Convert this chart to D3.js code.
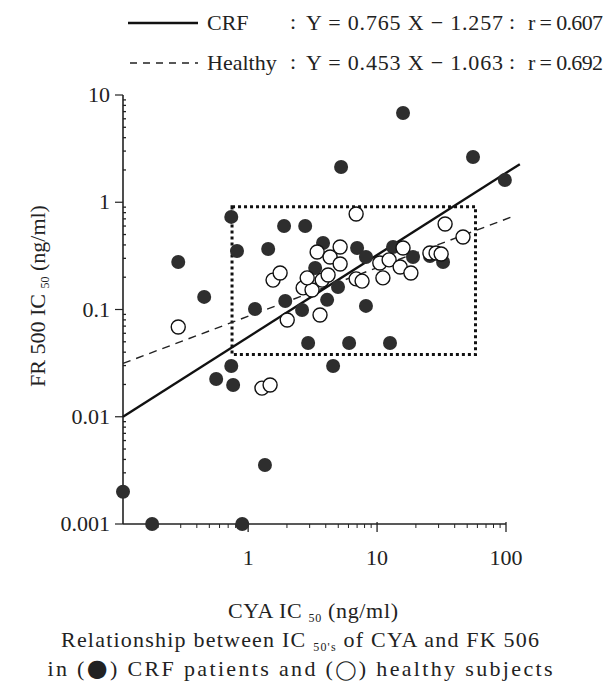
<!DOCTYPE html>
<html>
<head>
<meta charset="utf-8">
<script src="https://cdn.jsdelivr.net/npm/d3@7"></script>
<style>
  body { margin: 0; background: #fff; }
  text { font-family: "Liberation Serif", "DejaVu Serif", serif; fill: #222; }
</style>
</head>
<body>
<div id="figure"></div>
<script>
// CRF patients (filled dots): CYA IC50 vs FR500 IC50, ng/ml
var crfX = [0.107, 0.18, 0.90, 15.9, 55.5, 98, 5.26, 0.74, 1.90, 2.77, 0.287, 0.82, 1.43, 0.456,
  1.13, 1.94, 2.62, 2.92, 4.56, 0.74, 0.565, 0.765, 1.35, 6.07, 12.6, 8.2, 3.81, 3.31, 4.10,
  4.98, 7.0, 8.2, 13.3, 19.0, 25.7, 32.5];
var crfY = [0.002, 0.001, 0.001, 6.8, 2.64, 1.61, 2.13, 0.73, 0.60, 0.60, 0.277, 0.351, 0.366, 0.131,
  0.101, 0.120, 0.099, 0.0487, 0.0297, 0.0297, 0.0225, 0.0198, 0.00355, 0.0487, 0.0487, 0.108, 0.417, 0.244, 0.123,
  0.162, 0.374, 0.309, 0.383, 0.309, 0.315, 0.277];

// healthy subjects (open dots)
var healthyX = [0.287, 1.28, 1.48, 1.56, 1.77, 2.01, 2.67, 3.13, 2.87, 3.43, 4.32, 5.17, 5.17, 3.75,
  4.17, 3.61, 6.88, 6.88, 7.65, 10.5, 12.4, 15.9, 15.1, 11.1, 18.3, 25.7, 28.7, 31.4, 33.7, 46.4];
var healthyY = [0.0687, 0.0185, 0.0198, 0.188, 0.219, 0.0798, 0.159, 0.152, 0.197, 0.344, 0.309, 0.383, 0.266, 0.188,
  0.210, 0.0889, 0.777, 0.193, 0.184, 0.271, 0.290, 0.374, 0.249, 0.197, 0.219, 0.336, 0.336, 0.329, 0.627, 0.474];

// regression lines log10(Y) = a*log10(X) + b
var fitNames = ["CRF", "Healthy"];
var fitSlope = [0.765, 0.453];
var fitIntercept = [-1.257, -1.063];
var fitR = ["0.607", "0.692"];
var fitEndX = [128, 118];

// dotted reference box
var boxX = [0.75, 58];
var boxY = [0.038, 0.91];

var xMajor = [1, 10, 100];
var yMajor = [0.001, 0.01, 0.1, 1, 10];
var yLabels = ["0.001", "0.01", "0.1", "1", "10"];

var w = 610, h = 684;
var xMin = 0.107;
var fs = 22;

var svg = d3.select("#figure").append("svg").attr("width", w).attr("height", h);

var x = d3.scaleLog().domain([xMin, 100]).range([123, 506]);
var y = d3.scaleLog().domain([0.001, 10]).range([524, 95]);

// minor tick values
var xMinor = [], yMinor = [];
[0.1, 1, 10].forEach(function(d) {
  for (var k = 2; k <= 9; k++) { if (d * k > xMin) xMinor.push(d * k); }
});
[0.001, 0.01, 0.1, 1].forEach(function(d) {
  for (var k = 2; k <= 9; k++) yMinor.push(d * k);
});

var axisG = svg.append("g").attr("stroke", "#222").attr("fill", "none");

// axis lines
axisG.append("line").attr("x1", x(xMin)).attr("x2", x(100)).attr("y1", y(0.001)).attr("y2", y(0.001)).attr("stroke-width", 1.6);
axisG.append("line").attr("x1", x(xMin)).attr("x2", x(xMin)).attr("y1", y(10)).attr("y2", y(0.001)).attr("stroke-width", 1.6);

// x ticks (downward)
axisG.selectAll("line.xmin").data(xMinor).enter().append("line")
  .attr("x1", function(d) { return x(d); }).attr("x2", function(d) { return x(d); })
  .attr("y1", y(0.001)).attr("y2", y(0.001) + 4).attr("stroke-width", 1);
axisG.selectAll("line.xmaj").data(xMajor).enter().append("line")
  .attr("x1", function(d) { return x(d); }).attr("x2", function(d) { return x(d); })
  .attr("y1", y(0.001) - 2).attr("y2", y(0.001) + 8).attr("stroke-width", 1.3);

// y ticks: major outside, minor inside
axisG.selectAll("line.ymaj").data(yMajor).enter().append("line")
  .attr("x1", x(xMin) - 8).attr("x2", x(xMin))
  .attr("y1", function(d) { return y(d); }).attr("y2", function(d) { return y(d); })
  .attr("stroke-width", 1.2);
axisG.selectAll("line.ymin").data(yMinor).enter().append("line")
  .attr("x1", x(xMin)).attr("x2", x(xMin) + 3)
  .attr("y1", function(d) { return y(d); }).attr("y2", function(d) { return y(d); })
  .attr("stroke-width", 1.3);

svg.selectAll("text.ylab").data(yMajor).enter().append("text")
  .attr("x", 110).attr("y", function(d) { return y(d) + 7; })
  .attr("text-anchor", "end").attr("font-size", fs)
  .text(function(d, i) { return yLabels[i]; });

svg.selectAll("text.xlab").data(xMajor).enter().append("text")
  .attr("x", function(d) { return x(d); }).attr("y", 565)
  .attr("text-anchor", "middle").attr("font-size", fs)
  .text(function(d) { return d; });

// dotted box
svg.append("rect")
  .attr("x", x(boxX[0])).attr("y", y(boxY[1]))
  .attr("width", x(boxX[1]) - x(boxX[0])).attr("height", y(boxY[0]) - y(boxY[1]))
  .attr("fill", "none").attr("stroke", "#111").attr("stroke-width", 3)
  .attr("stroke-dasharray", "3,3");

// regression lines
function fitLine(i) {
  return [xMin, fitEndX[i]].map(function(v) {
    return [x(v), y(Math.pow(10, fitSlope[i] * Math.log10(v) + fitIntercept[i]))];
  });
}
svg.append("path").attr("d", d3.line()(fitLine(1)))
  .attr("stroke", "#222").attr("stroke-width", 1.4).attr("fill", "none")
  .attr("stroke-dasharray", "8,6");
svg.append("path").attr("d", d3.line()(fitLine(0)))
  .attr("stroke", "#111").attr("stroke-width", 2.4).attr("fill", "none");

// dots
var dotR = 7;
svg.selectAll("circle.crf").data(crfX).enter().append("circle")
  .attr("cx", function(d) { return x(d); })
  .attr("cy", function(d, i) { return y(crfY[i]); })
  .attr("r", dotR).attr("fill", "#2e2e2e");
svg.selectAll("circle.healthy").data(healthyX).enter().append("circle")
  .attr("cx", function(d) { return x(d); })
  .attr("cy", function(d, i) { return y(healthyY[i]); })
  .attr("r", dotR).attr("fill", "#fff").attr("stroke", "#111").attr("stroke-width", 1.4);

// legend
var legY = [30, 70];
svg.append("line").attr("x1", 128).attr("x2", 198).attr("y1", 23).attr("y2", 23)
  .attr("stroke", "#111").attr("stroke-width", 2.4);
svg.append("line").attr("x1", 130).attr("x2", 198).attr("y1", 63).attr("y2", 63)
  .attr("stroke", "#222").attr("stroke-width", 1.3).attr("stroke-dasharray", "7,6");
fitNames.forEach(function(n, i) {
  var g = svg.append("g").attr("font-size", fs);
  g.append("text").attr("x", 207).attr("y", legY[i]).text(n);
  g.append("text").attr("x", 290).attr("y", legY[i] - 1).text(":");
  g.append("text").attr("x", 306).attr("y", legY[i])
    .attr("textLength", 197).attr("lengthAdjust", "spacing")
    .text("Y = " + fitSlope[i].toFixed(3) + " X \u2212 " + Math.abs(fitIntercept[i]).toFixed(3));
  g.append("text").attr("x", 509).attr("y", legY[i] - 1).text(":");
  g.append("text").attr("x", 528).attr("y", legY[i])
    .attr("textLength", 75).attr("lengthAdjust", "spacing")
    .text("r = " + fitR[i]);
});

// y axis title
var yt = svg.append("text").attr("transform", "translate(45,296) rotate(-90)")
  .attr("text-anchor", "middle").attr("font-size", fs);
yt.append("tspan").text("FR 500 IC ");
yt.append("tspan").attr("font-size", 12).attr("dy", 4).text("50");
yt.append("tspan").attr("dy", -4).text(" (ng/ml)");

// x axis title
var xt = svg.append("text").attr("x", 313).attr("y", 618)
  .attr("text-anchor", "middle").attr("font-size", fs)
  .attr("textLength", 170).attr("lengthAdjust", "spacing");
xt.append("tspan").text("CYA IC ");
xt.append("tspan").attr("font-size", 12).attr("dy", 4).text("50");
xt.append("tspan").attr("dy", -4).text(" (ng/ml)");

// caption
var c1 = svg.append("text").attr("x", 300).attr("y", 647)
  .attr("text-anchor", "middle").attr("font-size", fs)
  .attr("textLength", 478).attr("lengthAdjust", "spacing");
c1.append("tspan").text("Relationship between IC ");
c1.append("tspan").attr("font-size", 12).attr("dy", 4).text("50's");
c1.append("tspan").attr("dy", -4).text(" of CYA and FK 506");

var c2 = svg.append("text").attr("x", 300).attr("y", 676)
  .attr("text-anchor", "middle").attr("font-size", fs)
  .attr("textLength", 505).attr("lengthAdjust", "spacing");
c2.append("tspan").text("in (");
c2.append("tspan").attr("font-family", "DejaVu Sans").attr("font-size", 24).text("\u25CF");
c2.append("tspan").text(") CRF patients and (");
c2.append("tspan").attr("font-family", "DejaVu Sans").attr("font-size", 19).text("\u25EF");
c2.append("tspan").text(") healthy subjects");
</script>
</body>
</html>
